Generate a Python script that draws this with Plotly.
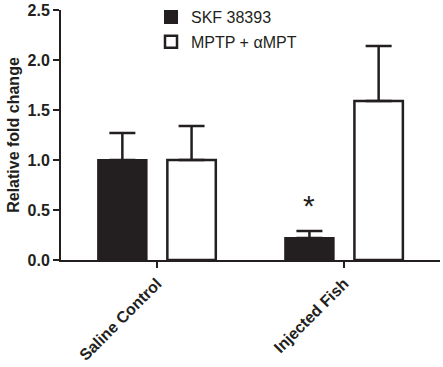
import plotly.graph_objects as go

categories = ["Saline Control", "Injected Fish"]
skf_values = [1.0, 0.22]
skf_errors = [0.27, 0.07]
mptp_values = [1.0, 1.59]
mptp_errors = [0.34, 0.55]
series_names = ["SKF 38393", "MPTP + \u03b1MPT"]
y_ticks = [0.0, 0.5, 1.0, 1.5, 2.0, 2.5]

FONT = "Liberation Sans, Arial, sans-serif"
INK = "#231f20"

fig = go.Figure()
fig.add_trace(go.Bar(
    name=series_names[0], x=categories, y=skf_values, legendgroup="a",
    marker=dict(color=INK, line=dict(color=INK, width=2)),
    error_y=dict(type="data", array=skf_errors, arrayminus=[0, 0], symmetric=False,
                 color=INK, thickness=2.5, width=13),
))
fig.add_trace(go.Bar(
    name=series_names[1], x=categories, y=mptp_values, legendgroup="b",
    marker=dict(color="white", line=dict(color=INK, width=2.5)),
    error_y=dict(type="data", array=mptp_errors, arrayminus=[0, 0], symmetric=False,
                 color=INK, thickness=2.5, width=13),
))

fig.add_annotation(
    x=1 - 0.185, y=skf_values[1] + skf_errors[1] + 0.07, text="*",
    showarrow=False, font=dict(family=FONT, size=30, color=INK),
    xref="x", yref="y", yanchor="bottom",
)

fig.update_layout(
    width=443, height=367,
    margin=dict(l=61, r=3, t=10, b=107, autoexpand=False),
    paper_bgcolor="white", plot_bgcolor="white",
    barmode="group", bargap=0.26, bargroupgap=0.3,
    font=dict(family=FONT, color=INK),
    showlegend=True,
    legend=dict(x=0.2375, xanchor="left", y=1.04, yanchor="top",
                font=dict(family=FONT, size=16, color=INK),
                bgcolor="rgba(0,0,0,0)", tracegroupgap=1),
)
fig.update_xaxes(
    range=[-0.513, 1.513], showline=True, linewidth=2, linecolor=INK,
    ticks="outside", ticklen=6, tickwidth=2, tickcolor=INK, automargin=False,
    tickangle=-45, tickfont=dict(family=FONT, size=16, color=INK, weight="bold"),
    showgrid=False, zeroline=False,
)
fig.update_yaxes(
    range=[0, 2.5], tickvals=y_ticks, tickformat=".1f", automargin=False,
    showline=True, linewidth=2, linecolor=INK,
    ticks="outside", ticklen=6, tickwidth=2, tickcolor=INK,
    tickfont=dict(family=FONT, size=16, color=INK, weight="bold"),
    title=dict(text="Relative fold change", font=dict(family=FONT, size=16, color=INK, weight="bold"), standoff=4),
    showgrid=False, zeroline=False,
)

fig.write_html("out.html", config={"displayModeBar": False},
               post_script="document.body.style.margin='0';")
